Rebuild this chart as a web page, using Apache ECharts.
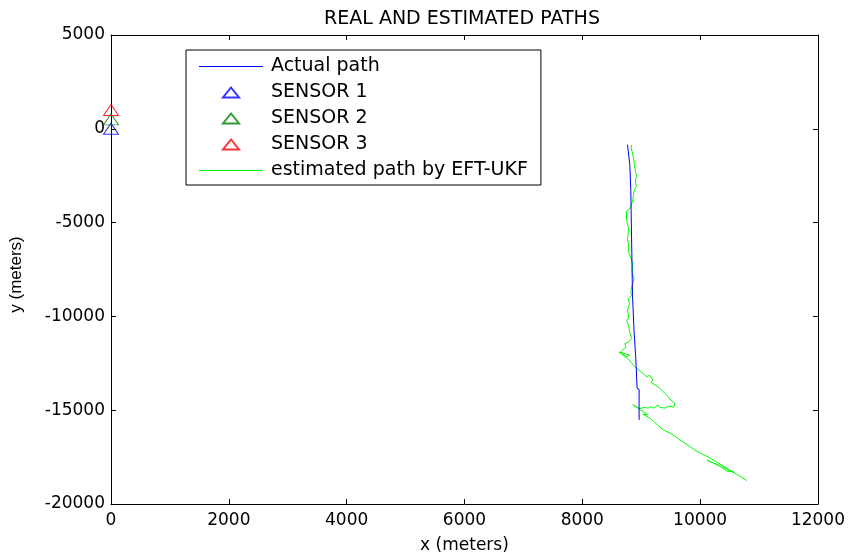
<!DOCTYPE html>
<html>
<head>
<meta charset="utf-8">
<script src="https://cdn.jsdelivr.net/npm/echarts@6/dist/echarts.min.js"></script>
<style>
  html, body { margin: 0; padding: 0; background: #fff; }
  #chart { width: 848px; height: 559px; }
</style>
</head>
<body>
<div id="chart"></div>
<script>
// actual path (metres)
var actualX = [8767, 8806, 8823, 8823, 8849, 8852, 8879, 8879, 8908, 8908, 8930, 8930, 8964, 8964];
var actualY = [-848, -1908, -1961, -3233, -3339, -8904, -8931, -10812, -10865, -12243, -12296, -13833, -13886, -15513];

// estimated path by EFT-UKF
var estX = [8840, 8828, 8852, 8874, 8886, 8908, 8920, 8896, 8920, 8886, 8874, 8862, 8852, 8828, 8794, 8750, 8721,
  8750, 8767, 8789, 8767, 8789, 8777, 8823, 8857, 8845, 8879, 8845, 8823, 8835, 8777, 8801, 8767, 8789, 8755,
  8789, 8811, 8835, 8789, 8721, 8743, 8653, 8699, 8755, 8806, 8619, 8772, 8891, 9010, 9090, 9146, 9202, 9163,
  9287, 9367, 9457, 9503, 9571, 9554, 9452, 9401, 9316, 9287, 9214, 9175, 9117, 9044, 8976, 8857, 8993, 9112,
  9027, 9146, 9372, 9520, 9656, 9940, 10166, 10472, 10591, 10120, 10336, 10450, 10557, 10790];
var estY = [-848, -1023, -1288, -1643, -1998, -2348, -2528, -2793, -3058, -3233, -3408, -3673, -3853, -4118, -4293,
  -4383, -4468, -4823, -5088, -5353, -5883, -6238, -6503, -6853, -7208, -7648, -8003, -8358, -8623, -8888, -9063,
  -9328, -9683, -10033, -10213, -10563, -10918, -11183, -11358, -11448, -11623, -11888, -12068, -12153, -12068,
  -11899, -12243, -12683, -12985, -13213, -13144, -13393, -13515, -13743, -13992, -14273, -14469, -14628, -14840,
  -14787, -14893, -14840, -14718, -14893, -14803, -14893, -14840, -14920, -14708, -14999, -15248, -15211, -15423,
  -16043, -16271, -16573, -17188, -17543, -18126, -18338, -17665, -17967, -18248, -18285, -18746];

// sensors
var sensorNames = ["SENSOR 1", "SENSOR 2", "SENSOR 3"];
var sensorColors = ["#0000ff", "#008000", "#ff0000"];
var sensorX = [0, 0, 0];
var sensorY = [0, 500, 1000];

var xTicks = { min: 0, max: 12000, interval: 2000 };
var yTicks = { min: -20000, max: 5000, interval: 5000 };

function pairs(xs, ys) {
  return xs.map(function (x, i) { return [x, ys[i]]; });
}

var font = "DejaVu Sans";
var lineIcon = "path://M0,0H64V1H0Z";
var triIcon = "path://M8,0L16,10L0,10Z";

var series = [
  {
    name: "Actual path",
    type: "line",
    data: pairs(actualX, actualY),
    symbol: "none",
    lineStyle: { color: "#0000ff", width: 1 },
    itemStyle: { color: "#0000ff" },
    z: 3
  }
];
sensorNames.forEach(function (nm, i) {
  series.push({
    name: nm,
    type: "scatter",
    data: [[sensorX[i], sensorY[i]]],
    symbol: "triangle",
    symbolSize: [15, 11],
    itemStyle: { color: "rgba(0,0,0,0)", borderColor: sensorColors[i], borderWidth: 1 },
    z: 4
  });
});
series.push({
  name: "estimated path by EFT-UKF",
  type: "line",
  data: pairs(estX, estY),
  symbol: "none",
  lineStyle: { color: "#00ff00", width: 1 },
  itemStyle: { color: "#00ff00" },
  z: 2
});

var tickIn = { show: true, inside: true, length: 5, lineStyle: { color: "#000", width: 1 } };
var axisLine = { show: true, onZero: false, lineStyle: { color: "#000", width: 1 } };

var option = {
  animation: false,
  backgroundColor: "#fff",
  title: {
    text: "REAL AND ESTIMATED PATHS",
    left: 457, top: 5, textAlign: "center",
    textStyle: { fontFamily: font, fontSize: 19, fontWeight: "normal", color: "#000" }
  },
  grid: { left: 111, top: 35, width: 707, height: 471, show: false },
  legend: {
    orient: "vertical",
    left: 186, top: 50,
    padding: [7, 13, 5, 13],
    itemWidth: 64, itemHeight: 10, itemGap: 7,
    backgroundColor: "#fff",
    borderColor: "#000", borderWidth: 1, borderRadius: 0,
    textStyle: { fontFamily: font, fontSize: 19, color: "#000", padding: [0, 0, 0, 3] },
    data: [
      { name: "Actual path", icon: lineIcon },
      { name: "SENSOR 1", icon: triIcon },
      { name: "SENSOR 2", icon: triIcon },
      { name: "SENSOR 3", icon: triIcon },
      { name: "estimated path by EFT-UKF", icon: lineIcon }
    ]
  },
  xAxis: [
    {
      type: "value", position: "bottom",
      min: xTicks.min, max: xTicks.max, interval: xTicks.interval,
      name: "x (meters)", nameLocation: "middle", nameGap: 33,
      nameTextStyle: { fontFamily: font, fontSize: 17, color: "#000" },
      axisLine: axisLine, axisTick: tickIn,
      axisLabel: { fontFamily: font, fontSize: 17, color: "#000", margin: 8, formatter: function (v) { return String(v); } },
      splitLine: { show: false }
    },
    {
      type: "value", position: "top",
      min: xTicks.min, max: xTicks.max, interval: xTicks.interval,
      axisLine: axisLine, axisTick: tickIn,
      axisLabel: { show: false }, splitLine: { show: false }
    }
  ],
  yAxis: [
    {
      type: "value", position: "left",
      min: yTicks.min, max: yTicks.max, interval: yTicks.interval,
      name: "y (meters)", nameLocation: "middle", nameGap: 86, nameRotate: 90,
      nameTextStyle: { fontFamily: "Liberation Sans", fontSize: 17, color: "#000", padding: [0, 10, 0, 0] },
      axisLine: axisLine, axisTick: tickIn,
      axisLabel: { fontFamily: font, fontSize: 17, color: "#000", margin: 6, formatter: function (v) { return String(v); } },
      splitLine: { show: false }
    },
    {
      type: "value", position: "right",
      min: yTicks.min, max: yTicks.max, interval: yTicks.interval,
      axisLine: axisLine, axisTick: tickIn,
      axisLabel: { show: false }, splitLine: { show: false }
    }
  ],
  series: series
};

var chart = echarts.init(document.getElementById("chart"), null, { renderer: "canvas" });
chart.setOption(option);
</script>
</body>
</html>
